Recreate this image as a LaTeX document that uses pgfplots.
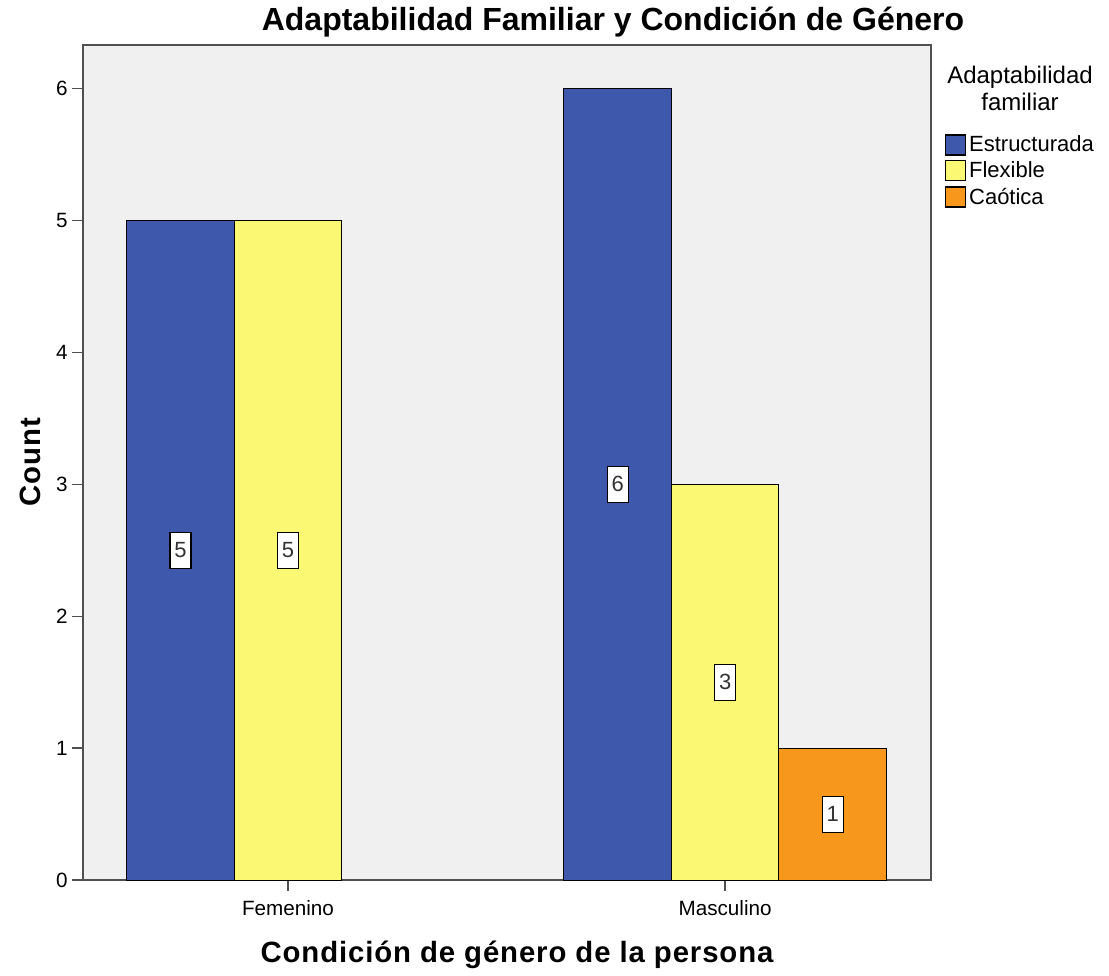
\documentclass[border=0pt]{standalone}
\usepackage{pgfplots}
\pgfplotsset{compat=1.18}
\usepackage{fontspec}
\setmainfont{Liberation Sans}
\newfontfamily\labfont[LetterSpace=3]{Liberation Sans}
\definecolor{cblue}{HTML}{3E58AC}
\definecolor{cyellow}{HTML}{FBF873}
\definecolor{corange}{HTML}{F7981D}
\definecolor{bgc}{HTML}{F0F0F0}
\definecolor{axc}{HTML}{505050}
\pgfplotsset{sqlegend/.style={legend image code/.code={\draw[##1,draw=black,line width=0.9pt] (0pt,-7.5pt) rectangle (15pt,7.5pt);}}}
\begin{document}
\begin{tikzpicture}
\begin{axis}[
  at={(0,0)}, anchor=south west,
  width=636pt, height=626.25pt, scale only axis,
  xmin=-0.469, xmax=1.471, ymin=0, ymax=6.33,
  ybar, bar width=80.625pt,
  xtick={0,1}, xticklabels={Femenino,Masculino},
  ytick={0,1,2,3,4,5,6},
  tick pos=left, tick align=outside, major tick length=8pt,
  tick style={axc, line width=1pt},
  axis line style={axc, line width=1.2pt},
  axis background/.style={fill=bgc},
  ticklabel style={font=\fontsize{15.5}{18}\selectfont},
  xticklabel style={yshift=-4pt},
  /pgf/number format/assume math mode=true,
  nodes near coords,
  visualization depends on={y/2 \as \halfy},
  every node near coord/.append style={anchor=center, fill=white, draw=black, line width=0.8pt, inner sep=0pt, minimum width=15.75pt, minimum height=27pt, font=\fontsize{16.5}{18}\selectfont, text=black!80, shift={(axis direction cs:0,-\halfy)}},
  legend style={at={(1.0165,0.8946)}, anchor=north west, draw=none, fill=none, inner sep=0pt, row sep=2pt, font=\fontsize{16.5}{19}\selectfont, cells={anchor=west}},
]
\addplot[fill=cblue, draw=black, line width=0.75pt, bar shift=-80.625pt, sqlegend] coordinates {(0,5) (1,6)};
\addplot[fill=cyellow, draw=black, line width=0.75pt, bar shift=0pt, sqlegend] coordinates {(0,5) (1,3)};
\addplot[fill=corange, draw=black, line width=0.75pt, bar shift=80.625pt, sqlegend] coordinates {(1,1)};
\legend{Estructurada,Flexible,Caótica}
\end{axis}
\node[font=\fontsize{24}{28}\selectfont\bfseries] at (397.5pt,643.5pt) {Adaptabilidad Familiar y Condición de Género};
\node[rotate=90, font=\labfont\fontsize{22}{26}\selectfont\bfseries] at (-39.75pt,313.5pt) {Count};
\node[font=\labfont\fontsize{22}{26}\selectfont\bfseries] at (325.5pt,-56pt) {Condición de género de la persona};
\node[align=center, font=\fontsize{18}{20.25}\selectfont] at (702.75pt,594pt) {Adaptabilidad\\familiar};
\pgfresetboundingbox
\useasboundingbox (-62.25pt,-71.25pt) rectangle (769.5pt,660pt);
\end{tikzpicture}
\end{document}
